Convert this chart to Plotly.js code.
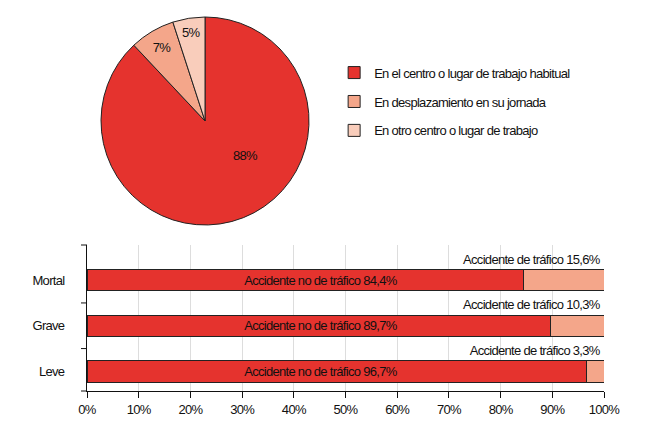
<!DOCTYPE html>
<html>
<head>
<meta charset="utf-8">
<script src="https://cdn.plot.ly/plotly-3.0.1.min.js"></script>
<style>
html,body{margin:0;padding:0;background:#fff;}
#chart{width:650px;height:421px;}
#chart svg text{letter-spacing:-0.7px;}
</style>
</head>
<body>
<div id="chart"></div>
<script>
// Pie data
var pieLabels = ['En el centro o lugar de trabajo habitual', 'En desplazamiento en su jornada', 'En otro centro o lugar de trabajo'];
var pieValues = [88, 7, 5];
var pieColors = ['#E5332E', '#F4A68A', '#F9CDBB'];

// Bar data
var severities = ['Mortal', 'Grave', 'Leve'];
var noTrafico = [84.4, 89.7, 96.7];
var trafico = [15.6, 10.3, 3.3];
var noTraficoLabel = 'Accidente no de tráfico';
var traficoLabel = 'Accidente de tráfico';
var xTickVals = [0, 10, 20, 30, 40, 50, 60, 70, 80, 90, 100];

var FONT = 'Liberation Sans, Arial, Helvetica, sans-serif';
var FS = 13;
var DARK = '#111111';

function fmt(v) { return String(v).replace('.', ',') + '%'; }

var traces = [];
traces.push({
  type: 'pie',
  labels: pieLabels,
  values: pieValues,
  sort: false,
  direction: 'clockwise',
  rotation: 0,
  marker: {colors: pieColors, line: {color: '#222', width: 1}},
  // largest slice label is placed as an annotation (see below)
  text: pieValues.map(function (v, i) { return i === 0 ? '' : v + '%'; }),
  texttemplate: '%{text}',
  textposition: 'inside',
  insidetextorientation: 'horizontal',
  textfont: {family: FONT, size: FS, color: DARK},
  domain: {x: [0.0271, 0.4294], y: [0.4357, 0.9816]},
  showlegend: false,
  hoverinfo: 'none'
});

// legend entries for pie categories
pieLabels.forEach(function (lab, i) {
  traces.push({
    type: 'scatter', mode: 'markers', x: [null], y: [null],
    name: lab, legendgroup: 'g' + i,
    marker: {symbol: 'square', size: 12, color: pieColors[i], line: {color: '#222', width: 1}},
    showlegend: true, hoverinfo: 'none'
  });
});

traces.push({
  type: 'bar', orientation: 'h', y: severities, x: noTrafico,
  marker: {color: '#E5332E', line: {color: '#222', width: 1}},
  showlegend: false, hoverinfo: 'none'
});
traces.push({
  type: 'bar', orientation: 'h', y: severities, x: trafico,
  marker: {color: '#F4A68A', line: {color: '#222', width: 1}},
  showlegend: false, hoverinfo: 'none'
});

var annotations = [];
annotations.push({
  x: 0.3056, y: 0.6194, xref: 'paper', yref: 'paper', showarrow: false,
  text: pieValues[0] + '%', font: {family: FONT, size: FS, color: DARK},
  xanchor: 'center', yanchor: 'middle'
});
severities.forEach(function (s, i) {
  annotations.push({
    x: 45.2, y: s, xref: 'x', yref: 'y', showarrow: false,
    text: noTraficoLabel + ' ' + fmt(noTrafico[i]),
    font: {family: FONT, size: FS, color: DARK}, xanchor: 'center', yanchor: 'middle'
  });
  annotations.push({
    x: 100, y: s, xref: 'x', yref: 'y', showarrow: false,
    text: traficoLabel + ' ' + fmt(trafico[i]),
    font: {family: FONT, size: FS, color: DARK}, xanchor: 'right', yanchor: 'middle',
    xshift: 7, yshift: 21
  });
});

// y-axis tick marks at axis ends and category boundaries
var shapes = [];
[0.5, 1.5].forEach(function (b) {
  shapes.push({type: 'line', xref: 'paper', yref: 'y', x0: -0.0116, x1: 0, y0: b, y1: b, line: {color: DARK, width: 1}});
});
[0, 1].forEach(function (d) {
  shapes.push({type: 'line', xref: 'paper', yref: 'y domain', x0: -0.0116, x1: 0, y0: d, y1: d, line: {color: DARK, width: 1}});
});

var layout = {
  width: 650, height: 421,
  margin: {l: 87, r: 46, t: 10, b: 30},
  paper_bgcolor: '#fff', plot_bgcolor: '#fff',
  font: {family: FONT, size: FS, color: DARK},
  barmode: 'stack',
  bargap: 0.53,
  showlegend: true,
  legend: {
    x: 0.478, y: 0.875, xanchor: 'left', yanchor: 'top',
    traceorder: 'grouped', tracegroupgap: 9,
    font: {family: FONT, size: FS, color: DARK},
    bgcolor: 'rgba(0,0,0,0)'
  },
  xaxis: {
    range: [0, 100], tickmode: 'array', tickvals: xTickVals,
    ticktext: xTickVals.map(function (v) { return v + '%'; }),
    showgrid: true, gridcolor: '#dddddd', gridwidth: 1,
    showline: true, linecolor: DARK, linewidth: 1,
    ticks: 'outside', ticklen: 6, tickcolor: DARK,
    zeroline: false, fixedrange: true,
    tickfont: {family: FONT, size: FS, color: DARK}
  },
  yaxis: {
    domain: [0, 0.3832],
    type: 'category',
    range: [2.43, -0.77],
    showline: true, linecolor: DARK, linewidth: 1,
    ticks: '', showgrid: false, zeroline: false,
    ticklabelstandoff: 19,
    fixedrange: true,
    tickfont: {family: FONT, size: FS, color: DARK}
  },
  annotations: annotations,
  shapes: shapes
};

Plotly.newPlot('chart', traces, layout, {displayModeBar: false, staticPlot: true});
</script>
</body>
</html>
